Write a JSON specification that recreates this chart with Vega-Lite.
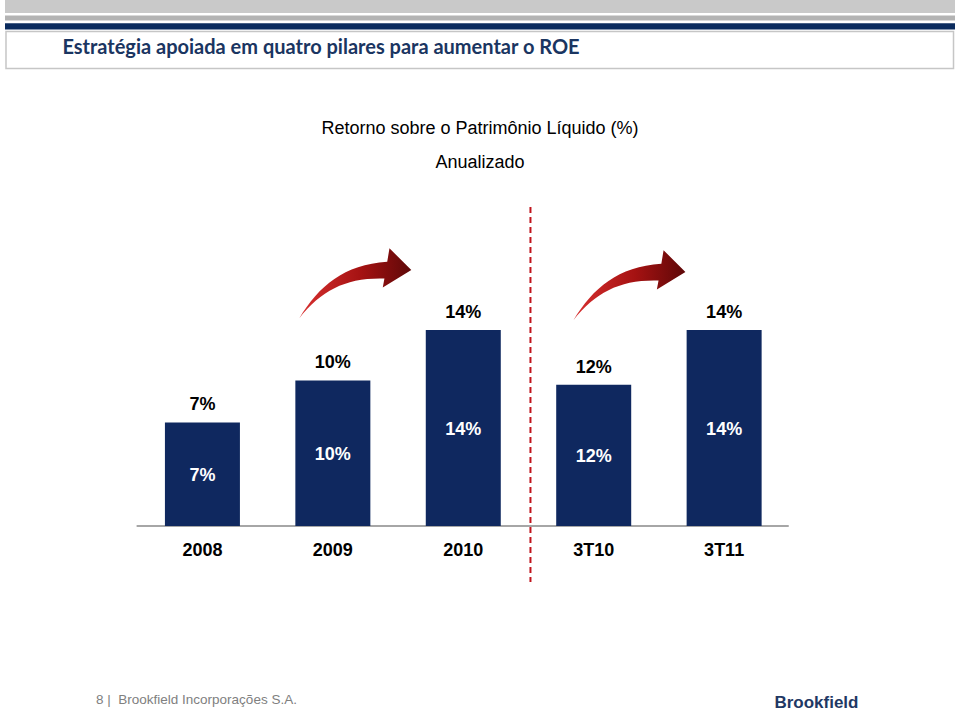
{
  "$schema": "https://vega.github.io/schema/vega-lite/v6.json",
  "width": 960,
  "height": 712,
  "autosize": {"type": "none"},
  "padding": 0,
  "background": "white",
  "config": {"view": {"stroke": null}, "text": {"font": "Liberation Sans"}},
  "datasets": {
    "roe": [
      {"periodo": "2008", "ordem": 0, "altura": 7.4, "rotulo": "7%"},
      {"periodo": "2009", "ordem": 1, "altura": 10.4, "rotulo": "10%"},
      {"periodo": "2010", "ordem": 2, "altura": 14.0, "rotulo": "14%"},
      {"periodo": "3T10", "ordem": 3, "altura": 10.1, "rotulo": "12%"},
      {"periodo": "3T11", "ordem": 4, "altura": 14.0, "rotulo": "14%"}
    ],
    "one": [{}]
  },
  "resolve": {"scale": {"y": "independent"}},
  "layer": [
    {
      "data": {"name": "one"},
      "mark": {"type": "rect", "color": "#c9c9c9"},
      "encoding": {
        "x": {"datum": -1.5137, "type": "quantitative", "scale": {"domain": [-1.5137, 5.7701], "nice": false, "zero": false}, "axis": null},
        "x2": {"datum": 5.7701},
        "y": {"datum": 37.6, "type": "quantitative", "scale": {"domain": [-13.3, 37.6], "nice": false, "zero": false}, "axis": null},
        "y2": {"datum": 36.67}
      }
    },
    {
      "data": {"name": "one"},
      "mark": {"type": "rect", "color": "#b3b3b3"},
      "encoding": {
        "x": {"datum": -1.5137, "type": "quantitative", "scale": {"domain": [-1.5137, 5.7701], "nice": false, "zero": false}, "axis": null},
        "x2": {"datum": 5.7701},
        "y": {"datum": 36.49, "type": "quantitative", "scale": {"domain": [-13.3, 37.6], "nice": false, "zero": false}, "axis": null},
        "y2": {"datum": 36.13}
      }
    },
    {
      "data": {"name": "one"},
      "mark": {"type": "rect", "color": "#0b2b5e"},
      "encoding": {
        "x": {"datum": -1.5137, "type": "quantitative", "scale": {"domain": [-1.5137, 5.7701], "nice": false, "zero": false}, "axis": null},
        "x2": {"datum": 5.7701},
        "y": {"datum": 35.93, "type": "quantitative", "scale": {"domain": [-13.3, 37.6], "nice": false, "zero": false}, "axis": null},
        "y2": {"datum": 35.5}
      }
    },
    {
      "data": {"name": "one"},
      "mark": {"type": "rect", "fill": "white", "stroke": "#c6c6c6", "strokeWidth": 1.5},
      "encoding": {
        "x": {"datum": -1.5061, "type": "quantitative", "scale": {"domain": [-1.5137, 5.7701], "nice": false, "zero": false}, "axis": null},
        "x2": {"datum": 5.7587},
        "y": {"datum": 35.35, "type": "quantitative", "scale": {"domain": [-13.3, 37.6], "nice": false, "zero": false}, "axis": null},
        "y2": {"datum": 32.7}
      }
    },
    {
      "data": {"name": "one"},
      "mark": {"type": "text", "text": "Estratégia apoiada em quatro pilares para aumentar o ROE", "align": "left", "baseline": "middle", "font": "Lato", "fontWeight": "bold", "fontSize": 20, "color": "#1a3561"},
      "encoding": {
        "x": {"datum": -1.0736, "type": "quantitative", "scale": {"domain": [-1.5137, 5.7701], "nice": false, "zero": false}, "axis": null},
        "y": {"datum": 34.17, "type": "quantitative", "scale": {"domain": [-13.3, 37.6], "nice": false, "zero": false}, "axis": null}
      }
    },
    {
      "data": {"name": "one"},
      "mark": {"type": "text", "text": "Retorno sobre o Patrimônio Líquido (%)", "align": "center", "baseline": "middle", "fontSize": 18, "color": "#000000"},
      "encoding": {
        "x": {"datum": 2.1282, "type": "quantitative", "scale": {"domain": [-1.5137, 5.7701], "nice": false, "zero": false}, "axis": null},
        "y": {"datum": 28.38, "type": "quantitative", "scale": {"domain": [-13.3, 37.6], "nice": false, "zero": false}, "axis": null}
      }
    },
    {
      "data": {"name": "one"},
      "mark": {"type": "text", "text": "Anualizado", "align": "center", "baseline": "middle", "fontSize": 18, "color": "#000000"},
      "encoding": {
        "x": {"datum": 2.1282, "type": "quantitative", "scale": {"domain": [-1.5137, 5.7701], "nice": false, "zero": false}, "axis": null},
        "y": {"datum": 25.95, "type": "quantitative", "scale": {"domain": [-13.3, 37.6], "nice": false, "zero": false}, "axis": null}
      }
    },
    {
      "data": {"name": "one"},
      "mark": {"type": "rule", "color": "#c0141c", "strokeWidth": 2, "strokeDash": [6, 4]},
      "encoding": {
        "x": {"datum": 2.5151, "type": "quantitative", "scale": {"domain": [-1.5137, 5.7701], "nice": false, "zero": false}, "axis": null},
        "y": {"datum": 22.8, "type": "quantitative", "scale": {"domain": [-13.3, 37.6], "nice": false, "zero": false}, "axis": null},
        "y2": {"datum": -4.0}
      }
    },
    {
      "data": {"name": "one"},
      "mark": {"type": "rule", "color": "#a6a6a6", "strokeWidth": 2},
      "encoding": {
        "x": {"datum": -0.5046, "type": "quantitative", "scale": {"domain": [-1.5137, 5.7701], "nice": false, "zero": false}, "axis": null},
        "x2": {"datum": 4.4954},
        "y": {"datum": 0, "type": "quantitative", "scale": {"domain": [-13.3, 37.6], "nice": false, "zero": false}, "axis": null}
      }
    },
    {
      "data": {"name": "roe"},
      "mark": {"type": "bar", "orient": "vertical", "width": 75, "color": "#0f285f"},
      "encoding": {
        "x": {"field": "ordem", "type": "quantitative", "scale": {"domain": [-1.5137, 5.7701], "nice": false, "zero": false}, "axis": null},
        "y": {"field": "altura", "type": "quantitative", "scale": {"domain": [-13.3, 37.6], "nice": false, "zero": false}, "axis": null},
        "y2": {"datum": 0}
      }
    },
    {
      "data": {"name": "roe"},
      "mark": {"type": "text", "dy": -17, "fontSize": 18, "fontWeight": "bold", "color": "#000000", "baseline": "middle"},
      "encoding": {
        "x": {"field": "ordem", "type": "quantitative", "scale": {"domain": [-1.5137, 5.7701], "nice": false, "zero": false}, "axis": null},
        "y": {"field": "altura", "type": "quantitative", "scale": {"domain": [-13.3, 37.6], "nice": false, "zero": false}, "axis": null},
        "text": {"field": "rotulo"}
      }
    },
    {
      "data": {"name": "roe"},
      "mark": {"type": "text", "fontSize": 18, "fontWeight": "bold", "color": "#ffffff", "baseline": "middle", "dy": 2},
      "encoding": {
        "x": {"field": "ordem", "type": "quantitative", "scale": {"domain": [-1.5137, 5.7701], "nice": false, "zero": false}, "axis": null},
        "y": {"field": "altura", "type": "quantitative", "scale": {"domain": [-26.6, 75.2], "nice": false, "zero": false}, "axis": null},
        "text": {"field": "rotulo"}
      }
    },
    {
      "data": {"name": "roe"},
      "mark": {"type": "text", "fontSize": 18, "fontWeight": "bold", "color": "#000000", "baseline": "middle"},
      "encoding": {
        "x": {"field": "ordem", "type": "quantitative", "scale": {"domain": [-1.5137, 5.7701], "nice": false, "zero": false}, "axis": null},
        "y": {"datum": -1.78, "type": "quantitative", "scale": {"domain": [-13.3, 37.6], "nice": false, "zero": false}, "axis": null},
        "text": {"field": "periodo"}
      }
    },
    {
      "data": {"name": "one"},
      "mark": {"type": "point", "filled": true, "opacity": 1, "strokeWidth": 0, "size": 12544,
        "shape": "M -1 0.63 C -0.65 0.05 -0.2 -0.33 0.57 -0.38 L 0.61 -0.62 L 1 -0.23 L 0.49 0.08 L 0.52 -0.08 C -0.15 -0.1 -0.6 0.12 -1 0.63 Z",
        "fill": {"gradient": "linear", "x1": 0, "y1": 0, "x2": 1, "y2": 0, "stops": [{"offset": 0, "color": "#d83030"}, {"offset": 0.55, "color": "#a51212"}, {"offset": 1, "color": "#5e0808"}]}},
      "encoding": {
        "x": {"datum": 1.1722, "type": "quantitative", "scale": {"domain": [-1.5137, 5.7701], "nice": false, "zero": false}, "axis": null},
        "y": {"datum": 17.37, "type": "quantitative", "scale": {"domain": [-13.3, 37.6], "nice": false, "zero": false}, "axis": null}
      }
    },
    {
      "data": {"name": "one"},
      "mark": {"type": "point", "filled": true, "opacity": 1, "strokeWidth": 0, "size": 12544,
        "shape": "M -1 0.63 C -0.65 0.05 -0.2 -0.33 0.57 -0.38 L 0.61 -0.62 L 1 -0.23 L 0.49 0.08 L 0.52 -0.08 C -0.15 -0.1 -0.6 0.12 -1 0.63 Z",
        "fill": {"gradient": "linear", "x1": 0, "y1": 0, "x2": 1, "y2": 0, "stops": [{"offset": 0, "color": "#d83030"}, {"offset": 0.55, "color": "#a51212"}, {"offset": 1, "color": "#5e0808"}]}},
      "encoding": {
        "x": {"datum": 3.2738, "type": "quantitative", "scale": {"domain": [-1.5137, 5.7701], "nice": false, "zero": false}, "axis": null},
        "y": {"datum": 17.23, "type": "quantitative", "scale": {"domain": [-13.3, 37.6], "nice": false, "zero": false}, "axis": null}
      }
    },
    {
      "data": {"name": "one"},
      "mark": {"type": "text", "text": "8 |\u00a0 Brookfield Incorporações S.A.", "align": "left", "baseline": "middle", "fontSize": 13.5, "color": "#808080"},
      "encoding": {
        "x": {"datum": -0.8157, "type": "quantitative", "scale": {"domain": [-1.5137, 5.7701], "nice": false, "zero": false}, "axis": null},
        "y": {"datum": -12.44, "type": "quantitative", "scale": {"domain": [-13.3, 37.6], "nice": false, "zero": false}, "axis": null}
      }
    },
    {
      "data": {"name": "one"},
      "mark": {"type": "text", "text": "Brookfield", "align": "center", "baseline": "middle", "fontSize": 17, "fontWeight": "bold", "color": "#1f3864"},
      "encoding": {
        "x": {"datum": 4.7078, "type": "quantitative", "scale": {"domain": [-1.5137, 5.7701], "nice": false, "zero": false}, "axis": null},
        "y": {"datum": -12.66, "type": "quantitative", "scale": {"domain": [-13.3, 37.6], "nice": false, "zero": false}, "axis": null}
      }
    }
  ]
}
